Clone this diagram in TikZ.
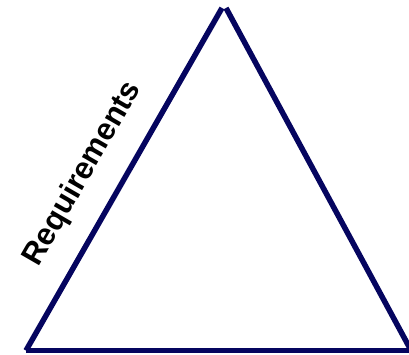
\documentclass[tikz,border=0pt]{standalone}
\usepackage{fontspec}
\setmainfont{Liberation Sans}
\definecolor{navy}{HTML}{05055F}
\begin{document}
\begin{tikzpicture}[x=1pt,y=1pt,
  edge/.style={draw=navy,line width=5.5pt},
  lbl/.style={font=\bfseries\fontsize{31}{34}\selectfont,text=black,inner sep=0pt}]
\useasboundingbox (0,0) rectangle (409,354);
\coordinate (bl) at (26,3.5);
\coordinate (br) at (420,3.5);
\coordinate (tl) at (222,346);
\coordinate (tr) at (226,346);
\coordinate (rb) at (413,0);
\draw[edge] (bl) -- (tl);
\draw[edge] (tr) -- (rb);
\draw[edge] (bl) -- (br);
\node[lbl,rotate=60] (req) at (83,180) {Requirements};
\end{tikzpicture}
\end{document}
